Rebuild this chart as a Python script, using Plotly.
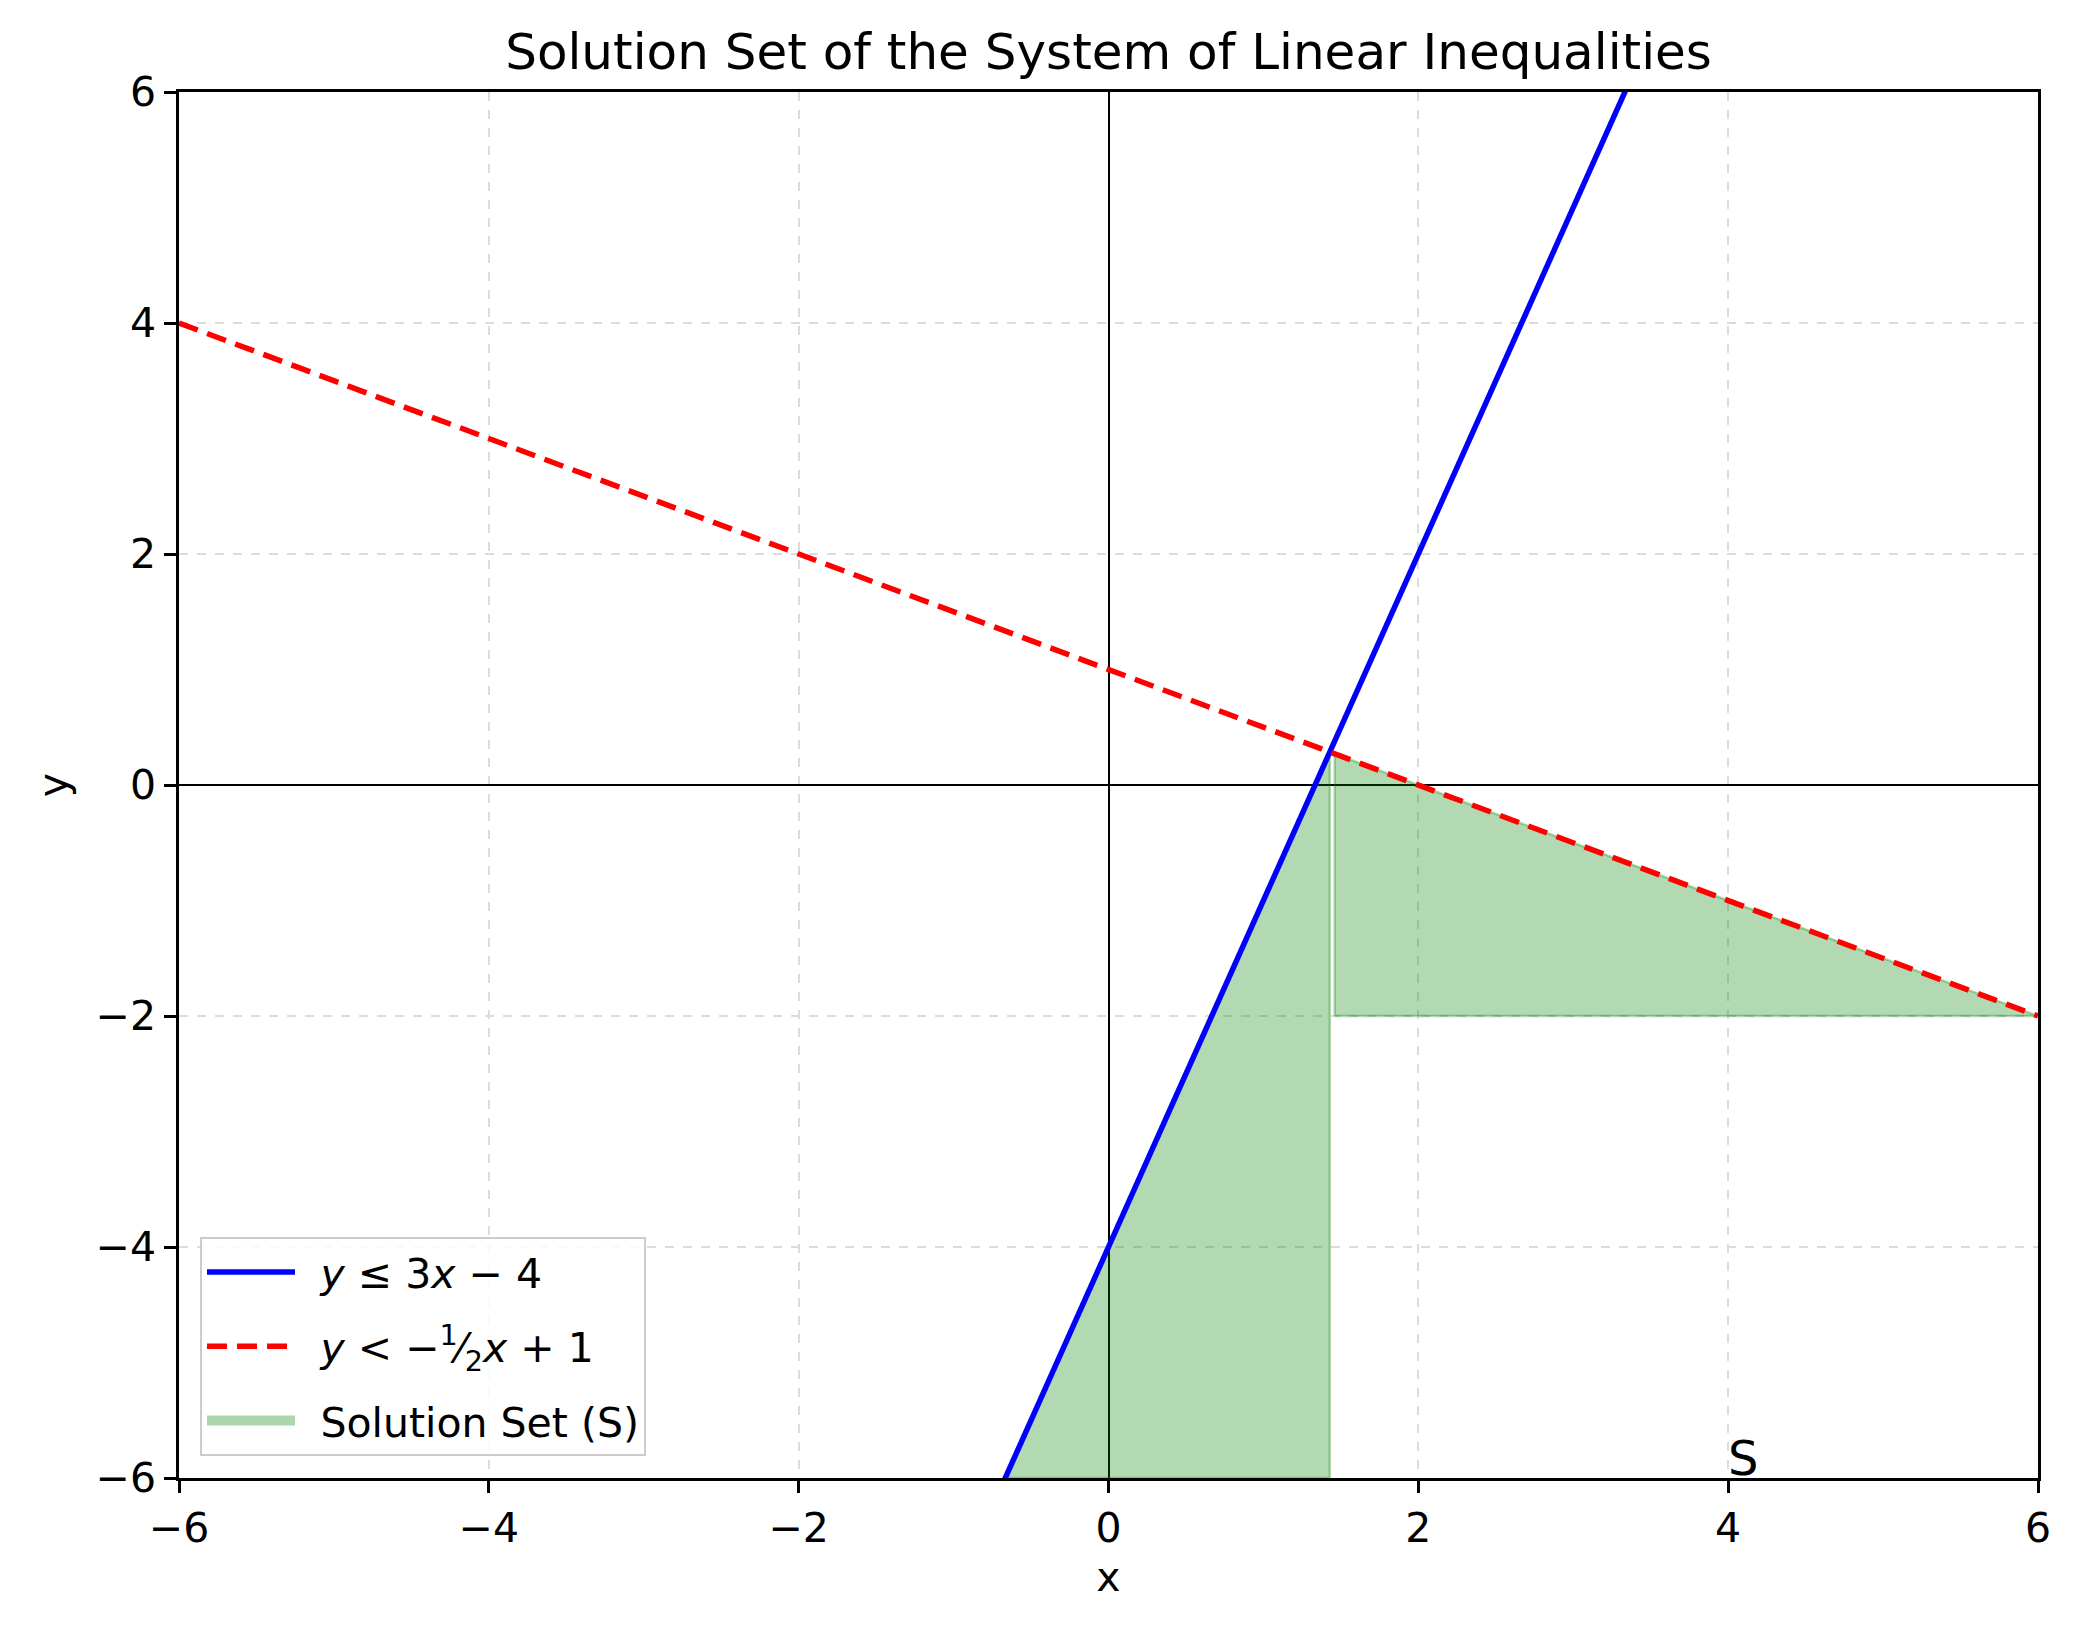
import plotly.graph_objects as go

# Inequality boundary lines: y = slope * x + intercept
blue_slope, blue_intercept = 3.0, -4.0
red_slope, red_intercept = -0.5, 1.0
x_range = [-6, 6]
y_range = [-6, 6]
tick_vals = [-6, -4, -2, 0, 2, 4, 6]
tick_text = ["\u22126", "\u22124", "\u22122", "0", "2", "4", "6"]

# Solution-set fill pieces (as drawn in the reference)
x_intersect = (red_intercept - blue_intercept) / (blue_slope - red_slope)
x_blue_bottom = (y_range[0] - blue_intercept) / blue_slope
x_right_start = 1.46
y_right_floor = -2.0

FONT = "DejaVu Sans"
FILL = "rgba(0,128,0,0.3)"
SP = "\u2002"
W, H = 2066, 1622
fig = go.Figure()

left_x = [x_blue_bottom, x_intersect, x_intersect, x_blue_bottom]
left_y = [y_range[0], blue_slope * x_intersect + blue_intercept, y_range[0], y_range[0]]
right_x = [x_right_start, x_right_start, x_range[1], x_right_start]
right_y = [y_right_floor, red_slope * x_right_start + red_intercept,
           red_slope * x_range[1] + red_intercept, y_right_floor]

for px, py in [(left_x, left_y), (right_x, right_y)]:
    fig.add_trace(go.Scatter(x=px, y=py, mode="lines", fill="toself",
                             fillcolor=FILL, line=dict(color=FILL, width=2.5),
                             legendgroup="s", showlegend=False, hoverinfo="skip"))
# legend entry for the solution set
fig.add_trace(go.Scatter(x=[None], y=[None], mode="lines",
                         line=dict(color="rgba(0,128,0,0.32)", width=30),
                         name=SP + "Solution Set (S)", legendgroup="s", legendrank=3))

# blue line
fig.add_trace(go.Scatter(x=x_range, y=[blue_slope * v + blue_intercept for v in x_range],
                         mode="lines", line=dict(color="#0000ff", width=5.5),
                         name=SP + "<i>y</i> \u2264 3<i>x</i> \u2212 4", legendgroup="b", legendrank=1))
# red dashed line
fig.add_trace(go.Scatter(x=x_range, y=[red_slope * v + red_intercept for v in x_range],
                         mode="lines", line=dict(color="#ff0000", width=5.5, dash="20px,10px"),
                         name=SP + "<i>y</i> < \u2212<sup>1</sup>\u2044<sub>2</sub><i>x</i> + 1",
                         legendgroup="r", legendrank=2))

axis_common = dict(
    showgrid=True, gridcolor="#dcdcdc", griddash="dash", gridwidth=1.5,
    zeroline=True, zerolinecolor="black", zerolinewidth=1.5,
    showline=True, linecolor="black", linewidth=2.5, mirror=True,
    ticks="outside", ticklen=12, tickwidth=2.5, tickcolor="black",
    tickfont=dict(family=FONT, size=41, color="black"),
    tickvals=tick_vals, ticktext=tick_text,
)
fig.update_xaxes(range=x_range, title=dict(text="x", font=dict(family=FONT, size=41, color="black"), standoff=12), **axis_common)
fig.update_yaxes(range=y_range, title=dict(text="y", font=dict(family=FONT, size=41, color="black"), standoff=16), **axis_common)

fig.add_annotation(x=4, y=-6, xref="x", yref="y", text="S", showarrow=False,
                   xanchor="left", yanchor="bottom", yshift=-10, xshift=-2,
                   font=dict(family=FONT, size=48, color="black"))

fig.update_layout(
    width=W, height=H,
    margin=dict(l=171, r=36, t=84, b=152),
    paper_bgcolor="white", plot_bgcolor="white",
    title=dict(text="Solution Set of the System of Linear Inequalities",
               x=0.5, xref="paper", xanchor="center",
               y=1 - 43 / H, yref="container", yanchor="middle",
               font=dict(family=FONT, size=50, color="black")),
    legend=dict(x=0.0113, y=0.016, xanchor="left", yanchor="bottom",
                bgcolor="rgba(255,255,255,0.85)", bordercolor="#cccccc", borderwidth=2,
                font=dict(family=FONT, size=41, color="black"),
                traceorder="grouped", tracegroupgap=18, itemwidth=88),
    showlegend=True,
)

fig.write_html("out.html")
